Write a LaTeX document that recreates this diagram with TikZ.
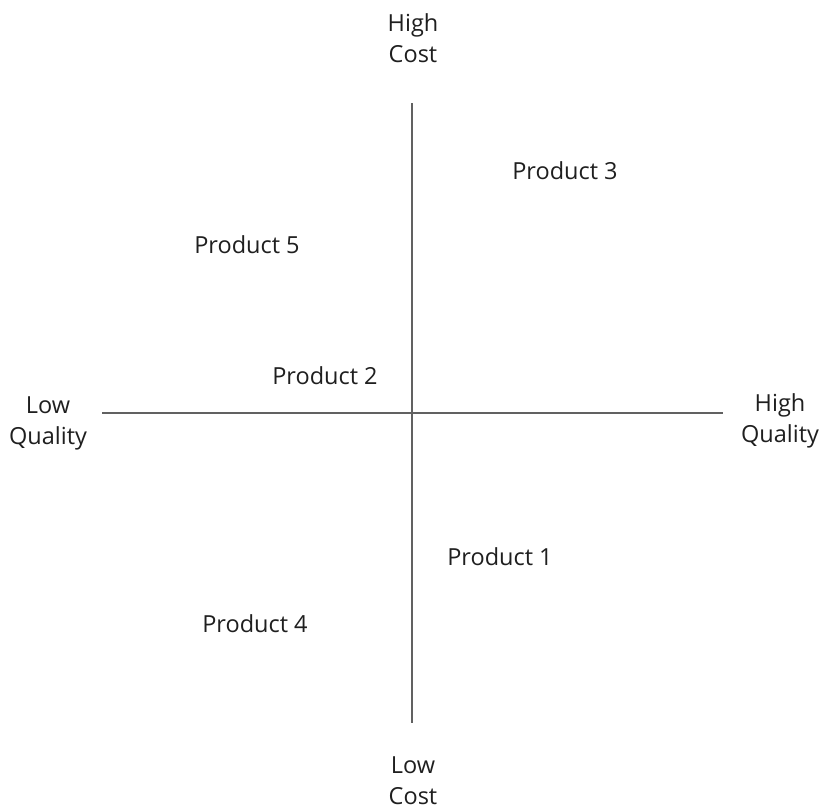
\documentclass[tikz,border=0pt]{standalone}
\usepackage{fontspec}
\setmainfont{Open Sans}
\begin{document}
\begin{tikzpicture}[x=1pt,y=-1pt,
  axis/.style={draw=black!62,line width=1.7pt},
  lbl/.style={font=\fontsize{23.5}{31}\selectfont,text=black!88,inner sep=0pt,align=center},
]
\fill[white] (0,0) rectangle (821,809);
\useasboundingbox (0,0) rectangle (821,809);
\coordinate (top) at (412,103);
\coordinate (bot) at (412,723);
\coordinate (left) at (102,413);
\coordinate (right) at (723,413);
\draw[axis] (top) -- (bot);
\draw[axis] (left) -- (right);
\node[lbl] (hc) at (413,38) {High\\Cost};
\node[lbl] (lc) at (413,781) {Low\\Cost};
\node[lbl] (lq) at (48,423) {Low\\Quality};
\node[lbl] (hq) at (780,421) {High\\Quality};
\node[lbl] (p3) at (565,171) {Product 3};
\node[lbl] (p5) at (247,245) {Product 5};
\node[lbl] (p2) at (325,376) {Product 2};
\node[lbl] (p1) at (500,557) {Product 1};
\node[lbl] (p4) at (255,624) {Product 4};
\end{tikzpicture}
\end{document}
